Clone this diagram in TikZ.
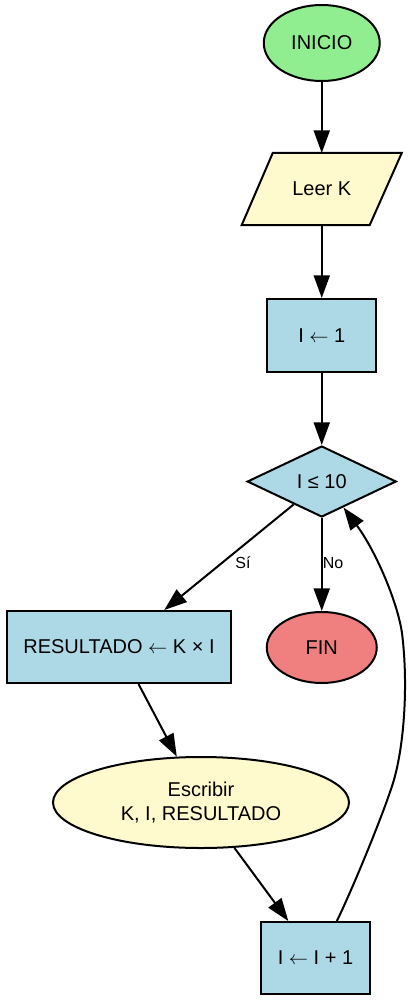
\documentclass[tikz,border=0pt]{standalone}
\usepackage{fontspec}
\setmainfont{Liberation Sans}
\usetikzlibrary{shapes.geometric,arrows.meta,backgrounds}
\definecolor{cgreen}{HTML}{90EE90}
\definecolor{clemon}{HTML}{FFFACD}
\definecolor{cblue}{HTML}{ADD8E6}
\definecolor{ccoral}{HTML}{F08080}
\newcommand{\larr}{\ensuremath{\leftarrow}}
\begin{document}
\begin{tikzpicture}[x=0.75pt,y=-0.75pt,
  base/.style={draw=black,line width=1.5pt,inner sep=0pt,font=\fontsize{15pt}{18pt}\selectfont,align=center},
  term/.style={base,ellipse},
  proc/.style={base,rectangle,fill=cblue},
  iotext/.style={inner sep=0pt,outer sep=0pt,font=\fontsize{15pt}{18pt}\selectfont,align=center},
  ioshape/.style={draw=black,line width=1.5pt,fill=clemon},
  decision/.style={base,diamond,aspect=2,fill=cblue},
  flow/.style={line width=1.5pt,-{Triangle[length=17pt,width=12pt]}},
  lbl/.style={font=\fontsize{12pt}{14pt}\selectfont,inner sep=0pt}]
\useasboundingbox (0,0) rectangle (414,1002);

\node[term,fill=cgreen,minimum width=87pt,minimum height=57pt] (ini) at (321.75,43) {INICIO};
\node[iotext,minimum width=96pt,minimum height=54pt] (lk) at (321.75,189) {Leer K};
\begin{scope}[on background layer]
\draw[ioshape] ([xshift=-36.75pt]lk.north) -- ([xshift=60pt]lk.north)
  -- ([xshift=36pt]lk.south) -- ([xshift=-60pt]lk.south) -- cycle;
\end{scope}
\node[proc,minimum width=81.75pt,minimum height=54.75pt] (i1) at (321.75,335.5) {I \larr{} 1};
\node[decision,minimum width=111.75pt,minimum height=53.25pt] (d) at (321.75,481.5) {I ≤ 10};
\node[proc,minimum width=168pt,minimum height=54pt] (res) at (119,647) {RESULTADO \larr{} K × I};
\node[term,fill=ccoral,minimum width=82.5pt,minimum height=53.25pt] (fin) at (321.75,647.5) {FIN};
\node[term,fill=clemon,minimum width=222pt,minimum height=68.25pt] (esc) at (201,802.5) {Escribir\\K, I, RESULTADO};
\node[proc,minimum width=81.75pt,minimum height=54pt] (ii) at (315.5,958) {I \larr{} I + 1};

\node[lbl] (si) at (243,563) {Sí};
\node[lbl] (no) at (333,563) {No};

\draw[flow] (ini) -- (lk);
\draw[flow] (lk) -- (i1);
\draw[flow] (i1) -- (d);
\draw[flow] (d) -- (res);
\draw[flow] (d) -- (fin);
\draw[flow] (res) -- (esc);
\draw[flow] (esc) -- (ii);
\draw[flow] (ii.60) .. controls (352,890) and (383,815) .. (393,783)
  .. controls (403,751) and (409,690) .. (402,633)
  .. controls (397,600) and (375,550) .. (d.-50);
\end{tikzpicture}
\end{document}
